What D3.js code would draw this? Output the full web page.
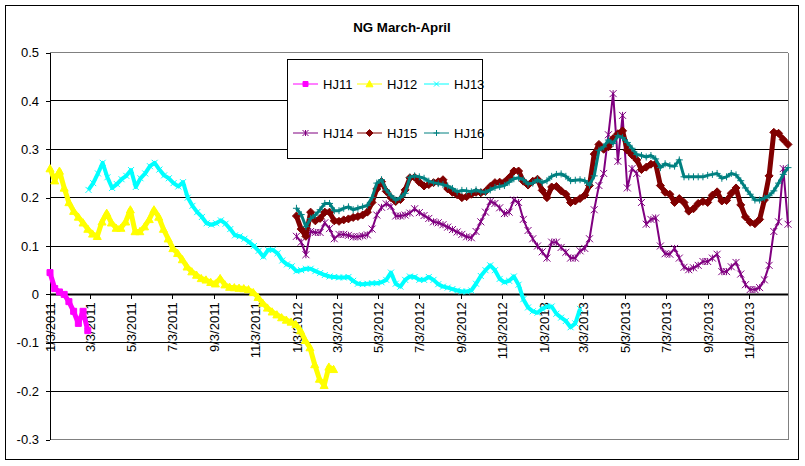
<!DOCTYPE html>
<html>
<head>
<meta charset="utf-8">
<script src="https://cdn.jsdelivr.net/npm/d3@7"></script>
<style>
body { margin: 0; background: #fff; }
text { font-family: "Liberation Sans", Arial, sans-serif; }
</style>
</head>
<body>
<div id="chart"></div>
<script>
// weekly readings, each series starts on its own date
var seriesNames = ["HJ11", "HJ12", "HJ13", "HJ14", "HJ15", "HJ16"];
var seriesStarts = ["1/3/2011", "1/3/2011", "3/1/2011", "1/3/2012", "1/3/2012", "1/3/2012"];

var hj11 = [0.045, 0.012, 0.005, 0.0, -0.015, -0.035, -0.06, -0.035, -0.075];

var hj12 = [0.26, 0.235, 0.255, 0.22, 0.19, 0.172, 0.16, 0.148, 0.135, 0.125,
	0.12, 0.15, 0.168, 0.148, 0.137, 0.137, 0.15, 0.175, 0.13, 0.13,
	0.14, 0.155, 0.175, 0.16, 0.135, 0.115, 0.095, 0.085, 0.072, 0.057,
	0.047, 0.04, 0.033, 0.03, 0.025, 0.022, 0.033, 0.02, 0.015, 0.014,
	0.013, 0.012, 0.01, 0.004, -0.006, -0.018, -0.028, -0.036, -0.042, -0.048,
	-0.053, -0.057, -0.062, -0.075, -0.095, -0.11, -0.145, -0.175, -0.188, -0.15,
	-0.155];

var hj13 = [0.216, 0.23, 0.25, 0.272, 0.242, 0.22, 0.228, 0.238, 0.245, 0.257,
	0.222, 0.24, 0.25, 0.265, 0.272, 0.258, 0.246, 0.24, 0.23, 0.223,
	0.232, 0.2, 0.183, 0.17, 0.16, 0.147, 0.144, 0.147, 0.153, 0.146,
	0.135, 0.122, 0.12, 0.115, 0.108, 0.1, 0.09, 0.078, 0.092, 0.092,
	0.085, 0.07, 0.062, 0.058, 0.048, 0.05, 0.053, 0.053, 0.048, 0.044,
	0.04, 0.037, 0.036, 0.035, 0.035, 0.036, 0.028, 0.022, 0.021, 0.022,
	0.023, 0.023, 0.025, 0.03, 0.045, 0.022, 0.016, 0.03, 0.037, 0.036,
	0.03, 0.03, 0.036, 0.03, 0.021, 0.016, 0.014, 0.011, 0.008, 0.006,
	0.006, 0.008, 0.022, 0.038, 0.05, 0.06, 0.05, 0.032, 0.025, 0.028,
	0.037, 0.02, -0.01, -0.027, -0.035, -0.038, -0.03, -0.025, -0.025, -0.04,
	-0.048, -0.055, -0.068, -0.06, -0.03];

var hj14 = [0.12, 0.108, 0.082, 0.13, 0.128, 0.128, 0.148, 0.136, 0.115, 0.124,
	0.124, 0.122, 0.119, 0.119, 0.121, 0.123, 0.135, 0.164, 0.18, 0.187,
	0.182, 0.162, 0.162, 0.164, 0.168, 0.177, 0.169, 0.163, 0.157, 0.15,
	0.148, 0.144, 0.139, 0.134, 0.129, 0.124, 0.119, 0.117, 0.13, 0.15,
	0.17, 0.192, 0.188, 0.179, 0.167, 0.17, 0.195, 0.19, 0.155, 0.132,
	0.115, 0.1, 0.088, 0.075, 0.108, 0.108, 0.097, 0.087, 0.075, 0.075,
	0.09, 0.095, 0.115, 0.175, 0.225, 0.25, 0.33, 0.415, 0.275, 0.37,
	0.22, 0.26, 0.25, 0.19, 0.145, 0.155, 0.158, 0.1, 0.084, 0.083,
	0.095, 0.075, 0.056, 0.051, 0.055, 0.06, 0.068, 0.068, 0.075, 0.083,
	0.047, 0.047, 0.057, 0.066, 0.042, 0.02, 0.01, 0.01, 0.014, 0.03,
	0.06, 0.13, 0.15, 0.26, 0.145];

var hj15 = [0.162, 0.135, 0.12, 0.17, 0.152, 0.157, 0.17, 0.17, 0.152, 0.151,
	0.154, 0.156, 0.159, 0.161, 0.164, 0.17, 0.19, 0.218, 0.233, 0.213,
	0.2, 0.192, 0.196, 0.216, 0.241, 0.242, 0.232, 0.224, 0.227, 0.231,
	0.233, 0.237, 0.218, 0.211, 0.206, 0.2, 0.202, 0.207, 0.211, 0.21,
	0.213, 0.223, 0.231, 0.232, 0.232, 0.241, 0.255, 0.255, 0.234, 0.226,
	0.234, 0.238, 0.215, 0.2, 0.222, 0.223, 0.214, 0.207, 0.19, 0.193,
	0.198, 0.205, 0.225, 0.29, 0.31, 0.3, 0.305, 0.322, 0.332, 0.338,
	0.298, 0.288, 0.278, 0.258, 0.263, 0.269, 0.27, 0.225, 0.211, 0.207,
	0.19, 0.198, 0.19, 0.172, 0.177, 0.188, 0.192, 0.19, 0.205, 0.212,
	0.193, 0.194, 0.209, 0.22, 0.185, 0.16, 0.149, 0.146, 0.155, 0.195,
	0.245, 0.335, 0.333, 0.32, 0.31];

var hj16 = [0.178, 0.165, 0.14, 0.157, 0.164, 0.175, 0.188, 0.188, 0.173, 0.173,
	0.178, 0.181, 0.175, 0.178, 0.181, 0.184, 0.2, 0.23, 0.237, 0.216,
	0.204, 0.195, 0.2, 0.209, 0.242, 0.245, 0.243, 0.24, 0.234, 0.231,
	0.229, 0.227, 0.224, 0.219, 0.212, 0.215, 0.214, 0.212, 0.216, 0.212,
	0.211, 0.216, 0.221, 0.223, 0.225, 0.232, 0.239, 0.241, 0.237, 0.228,
	0.23, 0.237, 0.231, 0.235, 0.244, 0.248, 0.249, 0.244, 0.235, 0.236,
	0.237, 0.235, 0.226, 0.245, 0.298, 0.305, 0.319, 0.312, 0.328, 0.324,
	0.314, 0.302, 0.289, 0.287, 0.284, 0.287, 0.28, 0.262, 0.27, 0.266,
	0.265, 0.278, 0.243, 0.243, 0.243, 0.243, 0.243, 0.246, 0.248, 0.25,
	0.24, 0.243, 0.25, 0.247, 0.235, 0.22, 0.207, 0.195, 0.195, 0.199,
	0.204, 0.214, 0.23, 0.248, 0.262];

var seriesValues = [hj11, hj12, hj13, hj14, hj15, hj16];

var yTicks = [-0.3, -0.2, -0.1, 0, 0.1, 0.2, 0.3, 0.4, 0.5];
var xTickLabels = ["1/3/2011", "3/3/2011", "5/3/2011", "7/3/2011", "9/3/2011", "11/3/2011",
	"1/3/2012", "3/3/2012", "5/3/2012", "7/3/2012", "9/3/2012", "11/3/2012",
	"1/3/2013", "3/3/2013", "5/3/2013", "7/3/2013", "9/3/2013", "11/3/2013"];
var xDomain = ["1/3/2011", "12/31/2013"];

var svgWidth = 805, svgHeight = 466;
var plotLeft = 50, plotRight = 788, plotTop = 52.5, plotBottom = 439.5;

var parseDate = d3.timeParse("%m/%d/%Y");

// excel-like markers, size = width in px here
var symSquare = { draw: function(ctx, s) {
	var r = s / 2;
	ctx.rect(-r, -r, s, s);
}};
var symTri = { draw: function(ctx, s) {
	var r = s / 2;
	ctx.moveTo(0, -r); ctx.lineTo(r, r * 0.8); ctx.lineTo(-r, r * 0.8); ctx.closePath();
}};
var symDiamond = { draw: function(ctx, s) {
	var r = s / 2;
	ctx.moveTo(0, -r); ctx.lineTo(r, 0); ctx.lineTo(0, r); ctx.lineTo(-r, 0); ctx.closePath();
}};
var symX = { draw: function(ctx, s) {
	var r = s / 2;
	ctx.moveTo(-r, -r); ctx.lineTo(r, r);
	ctx.moveTo(r, -r); ctx.lineTo(-r, r);
}};
var symPlus = { draw: function(ctx, s) {
	var r = s / 2;
	ctx.moveTo(-r, 0); ctx.lineTo(r, 0);
	ctx.moveTo(0, -r); ctx.lineTo(0, r);
}};
var symStar = { draw: function(ctx, s) {
	var r = s / 2;
	ctx.moveTo(-r, -r); ctx.lineTo(r, r);
	ctx.moveTo(r, -r); ctx.lineTo(-r, r);
	ctx.moveTo(0, -r); ctx.lineTo(0, r);
}};

// lw is the band the dense daily markers make in the original
var styles = [
	{ color: "#FF00FF", type: symSquare, size: 6, fill: true, lw: 5 },
	{ color: "#FFFF00", type: symTri, size: 8, fill: true, lw: 5 },
	{ color: "#00FFFF", type: symX, size: 6, fill: false, lw: 4 },
	{ color: "#800080", type: symStar, size: 7, fill: false, lw: 2 },
	{ color: "#800000", type: symDiamond, size: 8, fill: true, lw: 5 },
	{ color: "#008080", type: symPlus, size: 7, fill: false, lw: 3 }
];

var series = seriesNames.map(function(name, i) {
	var start = parseDate(seriesStarts[i]);
	return {
		name: name,
		values: seriesValues[i].map(function(v, j) {
			return { date: d3.timeDay.offset(start, 7 * j), value: v };
		})
	};
});

var x = d3.scaleTime()
	.domain(xDomain.map(parseDate))
	.range([plotLeft, plotRight]);

var y = d3.scaleLinear()
	.domain([-0.3, 0.5])
	.range([plotBottom, plotTop]);

var svg = d3.select('#chart')
	.append('svg')
	.attr('width', svgWidth)
	.attr('height', svgHeight);

svg.append('rect')
	.attr('x', 5.5).attr('y', 5.5)
	.attr('width', 793).attr('height', 454)
	.attr('fill', '#fff')
	.attr('stroke', '#000');

svg.append('text')
	.text('NG March-April')
	.attr('x', 402)
	.attr('y', 32)
	.attr('text-anchor', 'middle')
	.attr('font-size', '13.3px')
	.attr('font-weight', 'bold');

// grid lines
svg.append('g')
	.selectAll('line')
	.data(yTicks.filter(function(d) { return d !== 0; }))
	.enter().append('line')
	.attr('x1', plotLeft).attr('x2', plotRight)
	.attr('y1', function(d) { return y(d); })
	.attr('y2', function(d) { return y(d); })
	.attr('stroke', function(d) { return (d === 0.5 || d === -0.3) ? '#808080' : '#000'; })
	.attr('shape-rendering', 'crispEdges');

svg.append('line')
	.attr('x1', plotRight).attr('x2', plotRight)
	.attr('y1', plotTop).attr('y2', plotBottom)
	.attr('stroke', '#808080')
	.attr('shape-rendering', 'crispEdges');

// y axis
var yAxis = d3.axisLeft(y)
	.tickValues(yTicks)
	.tickSize(4)
	.tickSizeOuter(0)
	.tickPadding(7)
	.tickFormat(function(d) { return String(+d.toFixed(1)); });

var gy = svg.append('g')
	.attr('transform', 'translate(' + plotLeft + ',0)')
	.call(yAxis);
gy.selectAll('text').attr('font-size', '13px').attr('fill', '#000').style('font-family', '"Liberation Sans", Arial, sans-serif');
gy.selectAll('line, path').attr('stroke', '#000').attr('shape-rendering', 'crispEdges');

// x axis sits on zero
var xAxis = d3.axisBottom(x)
	.tickValues(xTickLabels.map(parseDate))
	.tickSize(5)
	.tickSizeOuter(0)
	.tickFormat(function(d, i) { return xTickLabels[i]; });

var gx = svg.append('g')
	.attr('transform', 'translate(0,' + y(0) + ')')
	.call(xAxis);
gx.select('.domain').remove();
gx.selectAll('line').attr('stroke', '#000').attr('shape-rendering', 'crispEdges');
gx.selectAll('text')
	.attr('font-size', '13px')
	.attr('fill', '#000')
	.style('font-family', '"Liberation Sans", Arial, sans-serif')
	.attr('text-anchor', 'end')
	.attr('transform', 'rotate(-90)')
	.attr('x', -8)
	.attr('y', 0)
	.attr('dy', '0.35em');

svg.append('line')
	.attr('x1', plotLeft).attr('x2', plotRight)
	.attr('y1', y(0)).attr('y2', y(0))
	.attr('stroke', '#000')
	.attr('stroke-width', 2);

// series
var line = d3.line()
	.x(function(d) { return x(d.date); })
	.y(function(d) { return y(d.value); });

var plot = svg.append('g').attr('id', 'series');

series.forEach(function(s, i) {
	var st = styles[i];
	var g = plot.append('g');
	g.append('path')
		.datum(s.values)
		.attr('d', line)
		.attr('fill', 'none')
		.attr('stroke', st.color)
		.attr('stroke-width', st.lw)
		.attr('stroke-linejoin', 'round');
	g.selectAll('path.m')
		.data(s.values)
		.enter().append('path')
		.attr('class', 'm')
		.attr('transform', function(d) { return 'translate(' + x(d.date) + ',' + y(d.value) + ')'; })
		.attr('d', d3.symbol().type(st.type).size(st.size))
		.attr('fill', st.fill ? st.color : 'none')
		.attr('stroke', st.color)
		.attr('stroke-width', 1);
});

// legend
var legend = svg.append('g');
legend.append('rect')
	.attr('x', 287.5).attr('y', 59.5)
	.attr('width', 195).attr('height', 99)
	.attr('fill', '#fff')
	.attr('stroke', '#000');

var colX = [293, 357, 424];
var rowY = [84, 133];

seriesNames.forEach(function(name, i) {
	var st = styles[i];
	var lx = colX[i % 3], ly = rowY[Math.floor(i / 3)];
	legend.append('line')
		.attr('x1', lx).attr('x2', lx + 25)
		.attr('y1', ly).attr('y2', ly)
		.attr('stroke', st.color);
	legend.append('path')
		.attr('transform', 'translate(' + (lx + 12.5) + ',' + ly + ')')
		.attr('d', d3.symbol().type(st.type).size(st.size - 1))
		.attr('fill', st.fill ? st.color : 'none')
		.attr('stroke', st.color);
	legend.append('text')
		.text(name)
		.attr('x', lx + 30)
		.attr('y', ly)
		.attr('dy', '0.35em')
		.attr('font-size', '13px');
});
</script>
</body>
</html>
